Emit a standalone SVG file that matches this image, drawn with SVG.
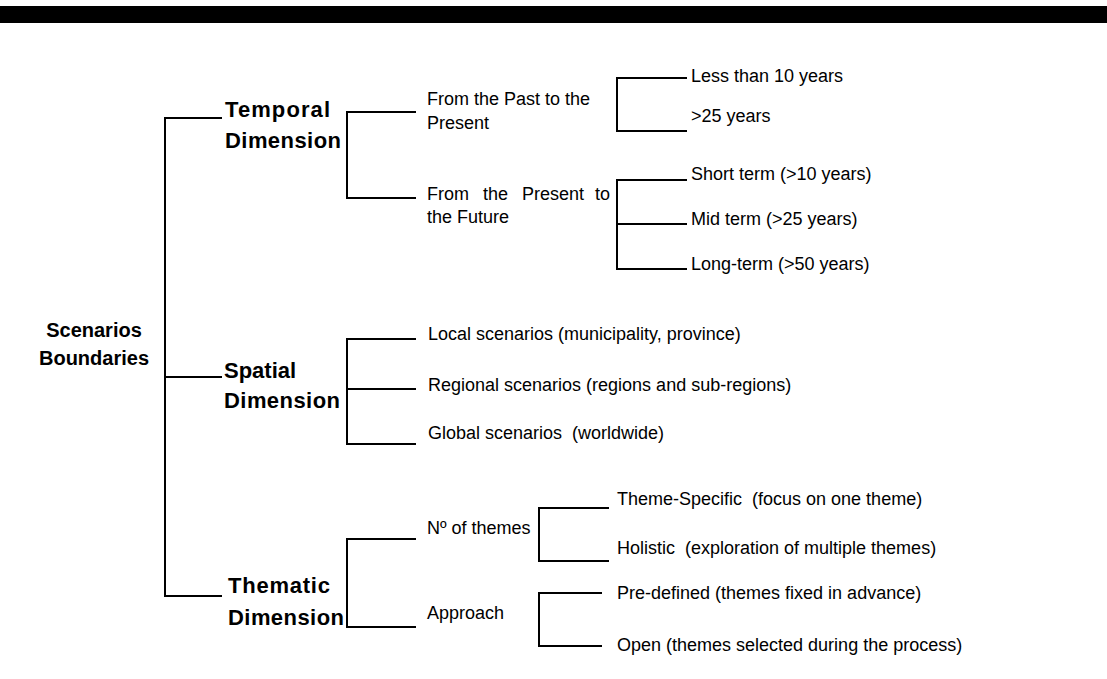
<svg xmlns="http://www.w3.org/2000/svg" width="1107" height="679" viewBox="0 0 1107 679">
<style>
.t{font-family:"Liberation Sans",Arial,sans-serif;font-size:18px;fill:#000;white-space:pre}
.b{font-family:"Liberation Sans",Arial,sans-serif;font-size:22px;font-weight:bold;fill:#000}
.r{font-family:"Liberation Sans",Arial,sans-serif;font-size:20px;font-weight:bold;fill:#000;text-anchor:middle}
.c{fill:none;stroke:#000;stroke-width:2}
</style>
<rect x="0" y="6" width="1107" height="17" fill="#000"/>
<g id="connectors" class="c">
<path d="M222,118H165V596H222M165,377H222"/>
<path d="M416,112H347V198H416"/>
<path d="M687,78H617V131H687"/>
<path d="M687,180H617V269H687M617,224H687"/>
<path d="M416,339H347V444H416M347,389H416"/>
<path d="M416,539H347V627H416"/>
<path d="M609,508H539V561H609"/>
<path d="M602,593H539V646H602"/>
</g>
<g id="root"><text class="r" x="94" y="337">Scenarios</text><text class="r" x="94" y="365">Boundaries</text></g>
<g id="temporal"><text class="b" x="225" y="117" textLength="105">Temporal</text><text class="b" x="225" y="148" textLength="116">Dimension</text></g>
<g id="spatial"><text class="b" x="224" y="378">Spatial</text><text class="b" x="224" y="408" textLength="116">Dimension</text></g>
<g id="thematic"><text class="b" x="228" y="593" textLength="102">Thematic</text><text class="b" x="228" y="625" textLength="116">Dimension</text></g>
<g id="past"><text class="t" x="427" y="105">From the Past to the</text><text class="t" x="427" y="129">Present</text></g>
<g id="future"><text class="t" y="200"><tspan x="427">From</tspan><tspan x="483">the</tspan><tspan x="522">Present</tspan><tspan x="595">to</tspan></text><text class="t" x="427" y="223">the Future</text></g>
<g id="less10"><text class="t" x="691" y="82">Less than 10 years</text></g>
<g id="gt25"><text class="t" x="691" y="122">&gt;25 years</text></g>
<g id="short"><text class="t" x="691" y="180">Short term (&gt;10 years)</text></g>
<g id="mid"><text class="t" x="691" y="225">Mid term (&gt;25 years)</text></g>
<g id="long"><text class="t" x="691" y="270">Long-term (&gt;50 years)</text></g>
<g id="local"><text class="t" x="428" y="340">Local scenarios (municipality, province)</text></g>
<g id="regional"><text class="t" x="428" y="391">Regional scenarios (regions and sub-regions)</text></g>
<g id="global"><text class="t" x="428" y="439">Global scenarios  (worldwide)</text></g>
<g id="nthemes"><text class="t" x="427" y="534">Nº of themes</text></g>
<g id="approach"><text class="t" x="427" y="619">Approach</text></g>
<g id="specific"><text class="t" x="617" y="505">Theme-Specific  (focus on one theme)</text></g>
<g id="holistic"><text class="t" x="617" y="554">Holistic  (exploration of multiple themes)</text></g>
<g id="predefined"><text class="t" x="617" y="599">Pre-defined (themes fixed in advance)</text></g>
<g id="open"><text class="t" x="617" y="651">Open (themes selected during the process)</text></g>
</svg>
